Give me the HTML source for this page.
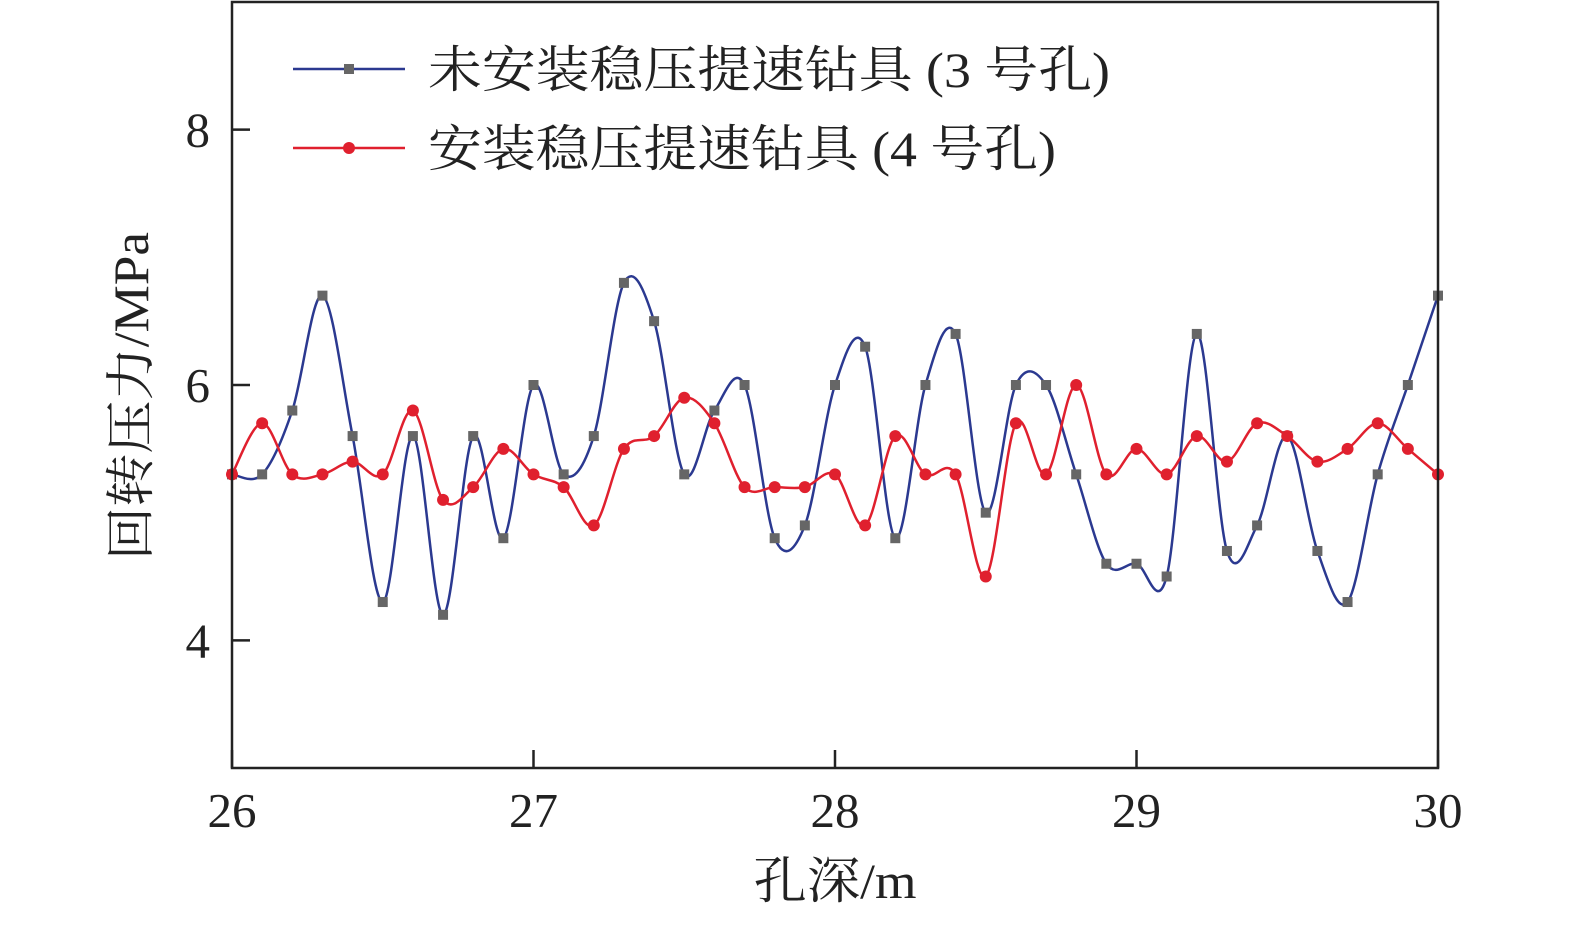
<!DOCTYPE html>
<html><head><meta charset="utf-8"><style>
html,body{margin:0;padding:0;background:#fff;}
svg text{font-family:"Liberation Serif","Noto Serif CJK SC",serif;fill:#222;}
</style></head><body>
<svg id="chart" width="1575" height="921" viewBox="0 0 1575 921" xmlns="http://www.w3.org/2000/svg">
<g id="marks"></g>
<rect x="232" y="2" width="1206" height="766" fill="none" stroke="#222" stroke-width="2.5"/>
<g id="axes"></g>
<g>
<g>
<line x1="293" y1="69" x2="405" y2="69" stroke="#2b3990" stroke-width="2.5"/>
<rect x="344" y="64" width="10" height="10" fill="#666"/>
<text x="428" y="87" font-size="50" textLength="682" lengthAdjust="spacingAndGlyphs">未安装稳压提速钻具 (3 号孔)</text>
</g>
<g>
<line x1="293" y1="148" x2="405" y2="148" stroke="#e0202e" stroke-width="2.5"/>
<circle cx="349" cy="148" r="6" fill="#e0202e"/>
<text x="428" y="166" font-size="50" textLength="628" lengthAdjust="spacingAndGlyphs">安装稳压提速钻具 (4 号孔)</text>
</g>
</g>
<text font-size="50" text-anchor="middle" textLength="328" lengthAdjust="spacingAndGlyphs" transform="translate(148,396) rotate(-90)">回转压力/MPa</text>
<text font-size="50" x="835" y="898" text-anchor="middle" textLength="163" lengthAdjust="spacingAndGlyphs">孔深/m</text>
</svg>
<script>
const depths = [26.0,26.1,26.2,26.3,26.4,26.5,26.6,26.7,26.8,26.9,27.0,27.1,27.2,27.3,27.4,27.5,27.6,27.7,27.8,27.9,28.0,28.1,28.2,28.3,28.4,28.5,28.6,28.7,28.8,28.9,29.0,29.1,29.2,29.3,29.4,29.5,29.6,29.7,29.8,29.9,30.0];
const hole3 = [5.3,5.3,5.8,6.7,5.6,4.3,5.6,4.2,5.6,4.8,6.0,5.3,5.6,6.8,6.5,5.3,5.8,6.0,4.8,4.9,6.0,6.3,4.8,6.0,6.4,5.0,6.0,6.0,5.3,4.6,4.6,4.5,6.4,4.7,4.9,5.6,4.7,4.3,5.3,6.0,6.7];
const hole4 = [5.3,5.7,5.3,5.3,5.4,5.3,5.8,5.1,5.2,5.5,5.3,5.2,4.9,5.5,5.6,5.9,5.7,5.2,5.2,5.2,5.3,4.9,5.6,5.3,5.3,4.5,5.7,5.3,6.0,5.3,5.5,5.3,5.6,5.4,5.7,5.6,5.4,5.5,5.7,5.5,5.3];
const xTicks = [26,27,28,29,30];
const yTicks = [4,6,8];
const X0=232,X1=1438,Y0=768,Y1=2,XMIN=26,XMAX=30,YMIN=3,YMAX=9;
const xs=v=>X0+(v-XMIN)/(XMAX-XMIN)*(X1-X0);
const ys=v=>Y0-(v-YMIN)/(YMAX-YMIN)*(Y0-Y1);
const NS="http://www.w3.org/2000/svg";
const marks=document.getElementById('marks'), axes=document.getElementById('axes');
function mk(t,a,p){const e=document.createElementNS(NS,t);for(const k in a)e.setAttribute(k,a[k]);p.appendChild(e);return e;}
function spline(pts){let d=`M${pts[0][0]},${pts[0][1]}`;for(let i=0;i<pts.length-1;i++){const p0=pts[Math.max(0,i-1)],p1=pts[i],p2=pts[i+1],p3=pts[Math.min(pts.length-1,i+2)];
const c1=[p1[0]+(p2[0]-p0[0])/6,p1[1]+(p2[1]-p0[1])/6],c2=[p2[0]-(p3[0]-p1[0])/6,p2[1]-(p3[1]-p1[1])/6];
d+=` C${c1[0]},${c1[1]} ${c2[0]},${c2[1]} ${p2[0]},${p2[1]}`;}return d;}
function series(vals,color,name,sq){
 const pts=vals.map((v,i)=>[xs(depths[i]),ys(v)]);
 const p=mk('path',{d:spline(pts),fill:'none',stroke:color,'stroke-width':2.5},marks);
 
 
 pts.forEach(q=>{let m;
  if(sq){m=mk('rect',{x:q[0]-5,y:q[1]-5,width:10,height:10,fill:'#666'},marks);}
  else{m=mk('circle',{cx:q[0],cy:q[1],r:6,fill:'#e0202e'},marks);}
  
  
 });
}
series(hole3,'#2b3990','hole3',true);
series(hole4,'#e0202e','hole4',false);
xTicks.forEach(t=>{const x=xs(t);
 const l=mk('line',{x1:x,y1:Y0,x2:x,y2:Y0-18,stroke:'#222','stroke-width':2.5},axes);
 
 
 const tx=mk('text',{x:x,y:827,'font-size':49,'text-anchor':'middle'},axes);tx.textContent=t;
 
 
});
yTicks.forEach(t=>{const y=ys(t);
 const l=mk('line',{x1:X0,y1:y,x2:X0+18,y2:y,stroke:'#222','stroke-width':2.5},axes);
 
 
 const tx=mk('text',{x:210,y:y+17,'font-size':49,'text-anchor':'end'},axes);tx.textContent=t;
 
 
});
</script>
</body></html>
